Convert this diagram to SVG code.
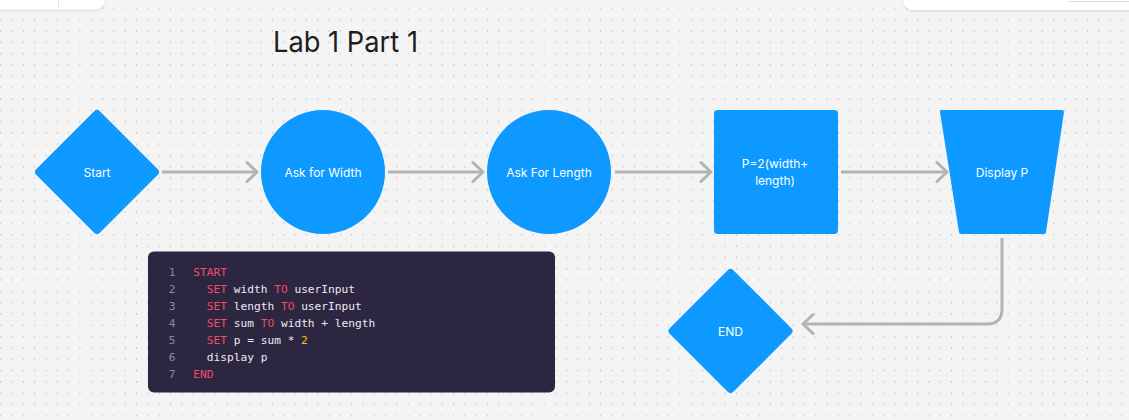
<svg xmlns="http://www.w3.org/2000/svg" width="1129" height="420" viewBox="0 0 1129 420">
  <defs>
    <pattern id="dots" x="0.2" y="7.5" width="11.32" height="11.32" patternUnits="userSpaceOnUse">
      <rect x="0" y="0" width="1" height="1.6" fill="#c2c2c2"/>
    </pattern>
    <marker id="chev" viewBox="0 0 14 24" refX="12" refY="12" markerWidth="14" markerHeight="24" markerUnits="userSpaceOnUse" orient="auto">
      <path d="M2,2.5 L12,12 L2,21.5" fill="none" stroke="#b3b3b3" stroke-width="3" stroke-linecap="round" stroke-linejoin="round"/>
    </marker>
    <filter id="sh" x="-10%" y="-50%" width="120%" height="200%">
      <feDropShadow dx="0" dy="1" stdDeviation="1.2" flood-color="#000" flood-opacity="0.12"/>
    </filter>
    <style>
      .node { fill: #0d99ff; }
      .lbl { font-family: Inter, "Noto Sans", "Liberation Sans", sans-serif; font-size: 12px; fill: #ffffff; text-anchor: middle; }
      .conn { fill: none; stroke: #b3b3b3; stroke-width: 3; marker-end: url(#chev); }
      .code { font-family: "DejaVu Sans Mono", "Liberation Mono", monospace; font-size: 11.2px; fill: #ece9f4; }
      .ln { fill: #8c899c; text-anchor: middle; }
      .kw { fill: #ee4d6c; }
      .num { fill: #ffc700; }
    </style>
  </defs>

  <rect width="1129" height="420" fill="#f4f4f4"/>
  <rect width="1129" height="420" fill="url(#dots)"/>

  <!-- top UI panels -->
  <g id="toolbar-left">
    <rect x="-20" y="-20" width="125" height="29.5" rx="10" fill="#ffffff" filter="url(#sh)"/>
    <line x1="58.5" y1="0" x2="58.5" y2="9.5" stroke="#e3e3e3" stroke-width="1"/>
  </g>
  <g id="toolbar-right">
    <rect x="903" y="-20" width="246" height="30" rx="10" fill="#ffffff" filter="url(#sh)"/>
    <line x1="1068" y1="1.5" x2="1129" y2="1.5" stroke="#dedede" stroke-width="1"/>
  </g>

  <g id="title">
    <text x="273" y="52" font-family="Inter, 'Noto Sans', 'Liberation Sans', sans-serif" font-size="29" fill="#1e1e1e" textLength="145" lengthAdjust="spacingAndGlyphs">Lab 1 Part 1</text>
  </g>

  <g id="connectors">
    <line class="conn" x1="162" y1="172" x2="257" y2="172"/>
    <line class="conn" x1="388" y1="172" x2="483" y2="172"/>
    <line class="conn" x1="615" y1="172" x2="711" y2="172"/>
    <line class="conn" x1="841" y1="172" x2="947" y2="172"/>
    <path class="conn" d="M1002,238 V309 Q1002,324 987,324 H803"/>
  </g>

  <g id="start">
    <rect class="node" x="-45" y="-45" width="90" height="90" rx="4" transform="translate(97,172) rotate(45)"/>
    <text class="lbl" x="97" y="176.5">Start</text>
  </g>

  <g id="ask-width">
    <circle class="node" cx="323" cy="172" r="62"/>
    <text class="lbl" x="323" y="176.5">Ask for Width</text>
  </g>

  <g id="ask-length">
    <circle class="node" cx="549" cy="172" r="62"/>
    <text class="lbl" x="549" y="176.5">Ask For Length</text>
  </g>

  <g id="compute">
    <rect class="node" x="714" y="110" width="124" height="124" rx="4"/>
    <text class="lbl" x="775" y="168">P=2(width+</text>
    <text class="lbl" x="775" y="185">length)</text>
  </g>

  <g id="display">
    <polygon class="node" points="942,112 1062,112 1044,232 961,232" stroke="#0d99ff" stroke-width="4" stroke-linejoin="round"/>
    <text class="lbl" x="1002" y="176.5">Display P</text>
  </g>

  <g id="end">
    <rect class="node" x="-45" y="-45" width="90" height="90" rx="4" transform="translate(730.5,331) rotate(45)"/>
    <text class="lbl" x="730.5" y="335.5">END</text>
  </g>

  <g id="code-block">
    <rect x="148" y="251.5" width="407" height="141" rx="6" fill="#2d2641"/>
    <g class="code">
      <text class="ln" x="172" y="275.5">1</text>
      <text class="ln" x="172" y="292.5">2</text>
      <text class="ln" x="172" y="309.5">3</text>
      <text class="ln" x="172" y="326.5">4</text>
      <text class="ln" x="172" y="343.5">5</text>
      <text class="ln" x="172" y="360.5">6</text>
      <text class="ln" x="172" y="377.5">7</text>
      <text x="193.3" y="275.5"><tspan class="kw">START</tspan></text>
      <text x="206.8" y="292.5" xml:space="preserve"><tspan class="kw">SET</tspan> width <tspan class="kw">TO</tspan> userInput</text>
      <text x="206.8" y="309.5" xml:space="preserve"><tspan class="kw">SET</tspan> length <tspan class="kw">TO</tspan> userInput</text>
      <text x="206.8" y="326.5" xml:space="preserve"><tspan class="kw">SET</tspan> sum <tspan class="kw">TO</tspan> width + length</text>
      <text x="206.8" y="343.5" xml:space="preserve"><tspan class="kw">SET</tspan> p = sum * <tspan class="num">2</tspan></text>
      <text x="206.8" y="360.5">display p</text>
      <text x="193.3" y="377.5"><tspan class="kw">END</tspan></text>
    </g>
  </g>
</svg>
